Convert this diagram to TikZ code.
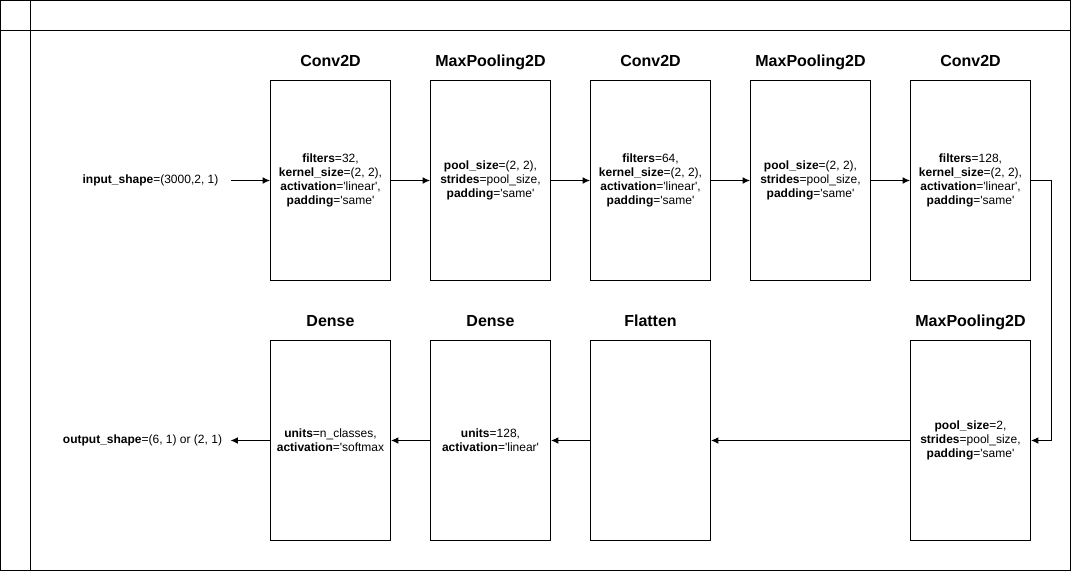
\documentclass[tikz,border=0pt]{standalone}
\usepackage{fontspec}
\setmainfont{Liberation Sans}[Ligatures=TeXOff]
\usetikzlibrary{positioning, arrows.meta}

\begin{document}
\begin{tikzpicture}[x=0.75pt, y=-0.75pt, line width=0.75pt,
        layer/.style={draw, minimum width=90pt, minimum height=150pt, inner sep=0pt,
            align=center, font=\fontsize{9}{10.5}\selectfont},
        title/.style={font=\fontsize{12}{14}\selectfont\bfseries, text height=8.6pt, text depth=2.6pt},
        io/.style={font=\fontsize{9}{10.5}\selectfont},
        flow/.style={-{Latex[length=5.5pt, width=5pt]}}]
        \useasboundingbox (-0.5,-0.5) rectangle (1070.5,570.5);

        % frame
        \draw (0,0) rectangle (1070,570);
        \draw (30,0) -- (30,570);
        \draw (0,30) -- (1070,30);

        % top row layers
        \node[layer] (conv_1) at (330,180) {\textbf{filters}=32,\\\textbf{kernel\_size}=(2, 2),\\\textbf{activation}='linear',\\\textbf{padding}='same'};
        \node[layer] (pool_1) at (490,180) {\textbf{pool\_size}=(2, 2),\\\textbf{strides}=pool\_size,\\\textbf{padding}='same'};
        \node[layer] (conv_2) at (650,180) {\textbf{filters}=64,\\\textbf{kernel\_size}=(2, 2),\\\textbf{activation}='linear',\\\textbf{padding}='same'};
        \node[layer] (pool_2) at (810,180) {\textbf{pool\_size}=(2, 2),\\\textbf{strides}=pool\_size,\\\textbf{padding}='same'};
        \node[layer] (conv_3) at (970,180) {\textbf{filters}=128,\\\textbf{kernel\_size}=(2, 2),\\\textbf{activation}='linear',\\\textbf{padding}='same'};

        % bottom row layers
        \node[layer] (pool_3) at (970,440) {\textbf{pool\_size}=2,\\\textbf{strides}=pool\_size,\\\textbf{padding}='same'};
        \node[layer] (flatten) at (650,440) {};
        \node[layer] (dense_1) at (490,440) {\textbf{units}=128,\\\textbf{activation}='linear'};
        \node[layer] (dense_2) at (330,440) {\textbf{units}=n\_classes,\\\textbf{activation}='softmax};

        % titles
        \node[title, above=4pt of conv_1] {Conv2D};
        \node[title, above=4pt of pool_1] {MaxPooling2D};
        \node[title, above=4pt of conv_2] {Conv2D};
        \node[title, above=4pt of pool_2] {MaxPooling2D};
        \node[title, above=4pt of conv_3] {Conv2D};
        \node[title, above=4pt of pool_3] {MaxPooling2D};
        \node[title, above=4pt of flatten] {Flatten};
        \node[title, above=4pt of dense_1] {Dense};
        \node[title, above=4pt of dense_2] {Dense};

        % input and output
        \node[io, inner xsep=9pt] (input) at (150,180) {\textbf{input\_shape}=(3000,2, 1)};
        \node[io, inner xsep=6pt] (output) at (142,440) {\textbf{output\_shape}=(6, 1) or (2, 1)};

        % connections
        \draw[flow] (input) -- (conv_1);
        \draw[flow] (conv_1) -- (pool_1);
        \draw[flow] (pool_1) -- (conv_2);
        \draw[flow] (conv_2) -- (pool_2);
        \draw[flow] (pool_2) -- (conv_3);
        \draw[flow] (conv_3.east) -- ++(20,0) |- (pool_3.east);
        \draw[flow] (pool_3) -- (flatten);
        \draw[flow] (flatten) -- (dense_1);
        \draw[flow] (dense_1) -- (dense_2);
        \draw[flow] (dense_2) -- (output);
    \end{tikzpicture}
\end{document}
